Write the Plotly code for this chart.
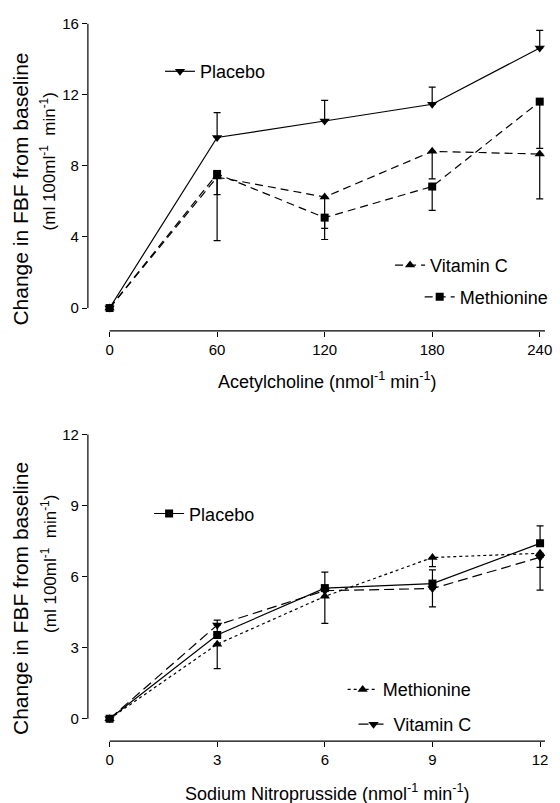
import plotly.graph_objects as go

# ---------------- data ----------------
ach_doses = [0, 60, 120, 180, 240]
ach_placebo = [0, 9.6, 10.53, 11.47, 14.64]
ach_placebo_err_up = [0, 1.4, 1.16, 0.97, 0.99]
ach_vitc = [0, 7.37, 6.25, 8.82, 8.67]
ach_vitc_err_down = [0, 3.58, 1.77, 1.55, 2.52]
ach_meth = [0, 7.55, 5.09, 6.84, 11.62]
ach_meth_err_down = [0, 1.16, 1.23, 1.34, 2.63]
ach_yticks = [0, 4, 8, 12, 16]

snp_doses = [0, 3, 6, 9, 12]
snp_placebo = [0, 3.54, 5.52, 5.71, 7.41]
snp_placebo_err_up = [0, 0.63, 0.67, 0.58, 0.74]
snp_meth = [0, 3.15, 5.17, 6.81, 6.99]
snp_meth_err_down = [0, 1.03, 1.14, 0.38, 0.6]
snp_vitc = [0, 3.96, 5.41, 5.5, 6.82]
snp_vitc_err_down = [0, 0, 0, 0.77, 1.39]
snp_yticks = [0, 3, 6, 9, 12]

ytitle1 = "Change in FBF from baseline"
ytitle2 = "(ml 100ml<sup>-1</sup>  min<sup>-1</sup>)"
xtitle_top = "Acetylcholine (nmol<sup>-1</sup> min<sup>-1</sup>)"
xtitle_bot = "Sodium Nitroprusside (nmol<sup>-1</sup> min<sup>-1</sup>)"

# ---------------- layout helpers ----------------
W, H = 560, 803
FONT = "Liberation Sans, Arial, sans-serif"
LW = 1.2


def px_x(p):
    return p / W


def px_y(p):
    return 1 - p / H


def err(up=None, down=None):
    n = len(up if up is not None else down)
    zeros = [0] * n
    return dict(type="data", symmetric=False,
                array=up if up is not None else zeros,
                arrayminus=down if down is not None else zeros,
                color="black", thickness=LW, width=3.5, visible=True)


fig = go.Figure()

# top panel
fig.add_trace(go.Scatter(x=ach_doses, y=ach_placebo, name="Placebo", mode="lines+markers",
                         line=dict(color="black", width=LW),
                         marker=dict(symbol="triangle-down", size=9, color="black"),
                         error_y=err(up=ach_placebo_err_up), xaxis="x", yaxis="y",
                         legend="legend", showlegend=True))
fig.add_trace(go.Scatter(x=ach_doses, y=ach_vitc, name="Vitamin C", mode="lines+markers",
                         line=dict(color="black", width=LW, dash="8px,5px"),
                         marker=dict(symbol="triangle-up", size=9, color="black"),
                         error_y=err(down=ach_vitc_err_down), xaxis="x", yaxis="y",
                         legend="legend2", showlegend=True))
fig.add_trace(go.Scatter(x=ach_doses, y=ach_meth, name="Methionine", mode="lines+markers",
                         line=dict(color="black", width=LW, dash="8px,5px"),
                         marker=dict(symbol="square", size=8, color="black"),
                         error_y=err(down=ach_meth_err_down), xaxis="x", yaxis="y",
                         legend="legend3", showlegend=True))

# bottom panel
fig.add_trace(go.Scatter(x=snp_doses, y=snp_placebo, name="Placebo", mode="lines+markers",
                         line=dict(color="black", width=LW),
                         marker=dict(symbol="square", size=8, color="black"),
                         error_y=err(up=snp_placebo_err_up), xaxis="x2", yaxis="y2",
                         legend="legend4", showlegend=True))
fig.add_trace(go.Scatter(x=snp_doses, y=snp_meth, name="Methionine", mode="lines+markers",
                         line=dict(color="black", width=LW, dash="3px,3px"),
                         marker=dict(symbol="triangle-up", size=9, color="black"),
                         error_y=err(down=snp_meth_err_down), xaxis="x2", yaxis="y2",
                         legend="legend5", showlegend=True))
fig.add_trace(go.Scatter(x=snp_doses, y=snp_vitc, name="Vitamin C", mode="lines+markers",
                         line=dict(color="black", width=LW, dash="10px,5px"),
                         marker=dict(symbol="triangle-down", size=9, color="black"),
                         error_y=err(down=snp_vitc_err_down), xaxis="x2", yaxis="y2",
                         legend="legend6", showlegend=True))

axis_common = dict(showgrid=False, zeroline=False, showline=False, ticks="outside",
                   ticklen=5, tickwidth=LW, tickcolor="black",
                   tickfont=dict(family=FONT, size=15, color="black"))

top_xr = [-12.1, 243]
top_yr = [-1.29, 16.22]
bot_xr = [-0.605, 12.14]
bot_yr = [-0.94, 12.18]

dom_x = [px_x(89), px_x(552)]

fig.update_layout(
    width=W, height=H, margin=dict(l=0, r=0, t=0, b=0),
    paper_bgcolor="white", plot_bgcolor="white", showlegend=True,
    font=dict(family=FONT, color="black"),
    xaxis=dict(domain=dom_x, range=top_xr, tickvals=ach_doses, anchor="y", **axis_common),
    yaxis=dict(domain=[px_y(328), px_y(15)], range=top_yr, tickvals=ach_yticks, anchor="x",
               **axis_common),
    xaxis2=dict(domain=dom_x, range=bot_xr, tickvals=snp_doses, anchor="y2", **axis_common),
    yaxis2=dict(domain=[px_y(740.7), px_y(428)], range=bot_yr, tickvals=snp_yticks, anchor="x2",
                **axis_common),
)

leg_common = dict(bgcolor="rgba(0,0,0,0)", font=dict(family=FONT, size=18, color="black"),
                  xanchor="left", yanchor="middle", itemwidth=30, borderwidth=0,
                  visible=True)
fig.update_layout(
    legend=dict(x=px_x(162), y=px_y(67), **leg_common),
    legend2=dict(x=px_x(395), y=px_y(262), **leg_common),
    legend3=dict(x=px_x(425), y=px_y(294), **leg_common),
    legend4=dict(x=px_x(151), y=px_y(512), **leg_common),
    legend5=dict(x=px_x(347), y=px_y(689), **leg_common),
    legend6=dict(x=px_x(358), y=px_y(724), **leg_common),
)

# offset axis lines (Prism style)
line_style = dict(color="black", width=LW)
fig.add_shape(type="line", xref="x domain", yref="y", x0=0, x1=0,
              y0=ach_yticks[0], y1=ach_yticks[-1], line=line_style)
fig.add_shape(type="line", xref="x", yref="y domain", x0=ach_doses[0], x1=top_xr[1],
              y0=0, y1=0, line=line_style)
fig.add_shape(type="line", xref="x2 domain", yref="y2", x0=0, x1=0,
              y0=snp_yticks[0], y1=snp_yticks[-1], line=line_style)
fig.add_shape(type="line", xref="x2", yref="y2 domain", x0=snp_doses[0], x1=bot_xr[1],
              y0=0, y1=0, line=line_style)

# y-axis titles (two lines each)
for line, xpix, ypix, size in [(ytitle1, 21, 185, 21), (ytitle2, 49, 157, 17),
                               (ytitle1, 21, 597, 21), (ytitle2, 49, 562, 17)]:
    fig.add_annotation(text=line, x=px_x(xpix), y=px_y(ypix), xref="paper", yref="paper",
                       showarrow=False, textangle=-90, xanchor="center", yanchor="middle",
                       font=dict(family=FONT, size=size, color="black"))

# x-axis titles, centred under the drawn axis line
for text, ypix in [(xtitle_top, 378), (xtitle_bot, 792)]:
    fig.add_annotation(text=text, x=px_x(332), y=px_y(ypix), xref="paper", yref="paper",
                       showarrow=False, xanchor="center", yanchor="middle",
                       font=dict(family=FONT, size=18, color="black"))

fig.write_html("out.html", config={"displayModeBar": False},
               post_script="document.body.style.margin='0';document.body.style.overflow='hidden';")
